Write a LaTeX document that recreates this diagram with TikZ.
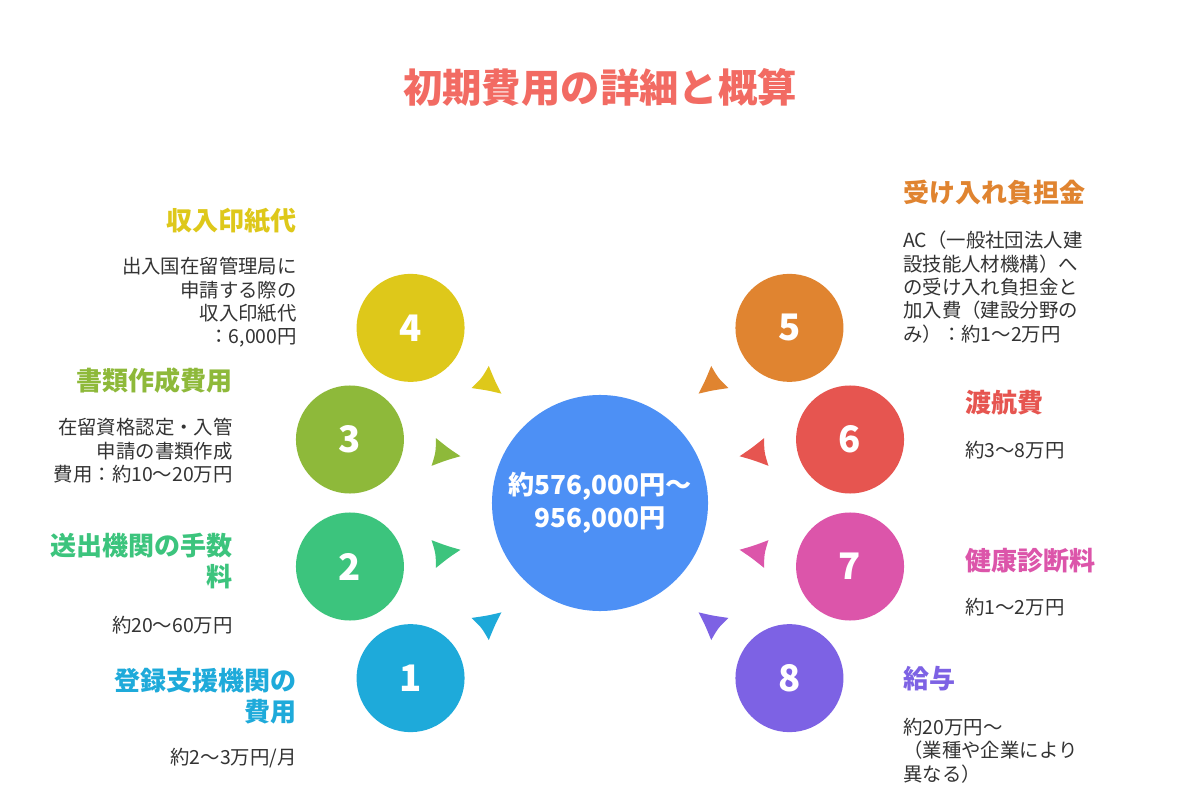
\documentclass[tikz,border=0pt]{standalone}
\usepackage{fontspec}
\setmainfont{Noto Sans CJK JP}
\usepackage{xcolor}
\usetikzlibrary{calc,positioning}
\definecolor{ttl}{HTML}{F26B63}
\definecolor{body}{HTML}{333333}
\definecolor{cBlue}{HTML}{4D90F5}
\definecolor{cOne}{HTML}{1EAADA}
\definecolor{cTwo}{HTML}{3CC47D}
\definecolor{cThree}{HTML}{8EB93A}
\definecolor{cFour}{HTML}{DEC81A}
\definecolor{cFive}{HTML}{E08430}
\definecolor{cSix}{HTML}{E65550}
\definecolor{cSeven}{HTML}{DC55AA}
\definecolor{cEight}{HTML}{7D62E4}

\begin{document}
\begin{tikzpicture}[x=0.025cm, y=0.025cm, hd/.style={inner sep=0pt, font=\fontsize{18.5}{22.5}\selectfont\bfseries}, txt/.style={inner sep=0pt, text=body, font=\fontsize{13.8}{16.6}\selectfont}]
\tikzstyle{num}=[circle, minimum size=2.7cm, inner sep=0pt, text=white, font=\fontsize{26}{30}\selectfont\bfseries]
\useasboundingbox[fill=white] (0,0) rectangle (1200,790);
\node[text=ttl, font=\fontsize{28}{32}\selectfont\bfseries] (title) at (600,703) {初期費用の詳細と概算};
\node[circle, fill=cBlue, minimum size=5.4cm, inner sep=0pt, text=white, align=center, font=\fontsize{18.6}{23.5}\selectfont\bfseries] (ctr) at (600,287) {約576,000円～\\956,000円};
\foreach \n/\a/\t/\r/\c in {1/222.75/227/38/cOne,2/194.25/197.6/9/cTwo,3/165.75/162.4/-9/cThree,4/137.25/133/-38/cFour,5/42.75/47/218/cFive,6/14.25/17.6/189/cSix,7/-14.25/-17.6/171/cSeven,8/-42.75/-47/142/cEight}{
\node[num, fill=\c] (c\n) at ($(ctr)+(\a:258)$) {\n};
\fill[\c, shift={($(ctr)+(\t:163)$)}, rotate=\r] (16,0) .. controls (3,6) .. (-11,14) .. controls (-9,0) .. (-11,-14) .. controls (3,-6) .. (16,0);
}
\node[hd, text=cFour, anchor=north east] (h4) at (297,582) {収入印紙代};
\node[txt, anchor=north east, align=right] (b4) at (297,533) {出入国在留管理局に\\申請する際の\\収入印紙代\\：6,000円};
\node[hd, text=cThree, anchor=north east] (h3) at (233,422.5) {書類作成費用};
\node[txt, anchor=north east, align=right] (b3) at (233,372) {在留資格認定・入管\\申請の書類作成\\費用：約10～20万円};
\node[hd, text=cTwo, anchor=north east, align=right] (h2) at (233,257.5) {送出機関の手数\\料};
\node[txt, anchor=north east] (b2) at (233,174) {約20～60万円};
\node[hd, text=cOne, anchor=north east, align=right] (h1) at (297,122.5) {登録支援機関の\\費用};
\node[txt, anchor=north east] (b1) at (297,42) {約2～3万円/月};
\node[hd, text=cFive, anchor=north west] (h5) at (903,610.5) {受け入れ負担金};
\node[txt, anchor=north west, align=left] (b5) at (903,559) {AC（一般社団法人建\\設技能人材機構）へ\\の受け入れ負担金と\\加入費（建設分野の\\み）：約1～2万円};
\node[hd, text=cSix, anchor=north west] (h6) at (965,400) {渡航費};
\node[txt, anchor=north west] (b6) at (965,349) {約3～8万円};
\node[hd, text=cSeven, anchor=north west] (h7) at (965,242.5) {健康診断料};
\node[txt, anchor=north west] (b7) at (965,192) {約1～2万円};
\node[hd, text=cEight, anchor=north west] (h8) at (903,124.5) {給与};
\node[txt, anchor=north west, align=left] (b8) at (903,72) {約20万円～\\（業種や企業により\\異なる）};
\end{tikzpicture}
\end{document}
